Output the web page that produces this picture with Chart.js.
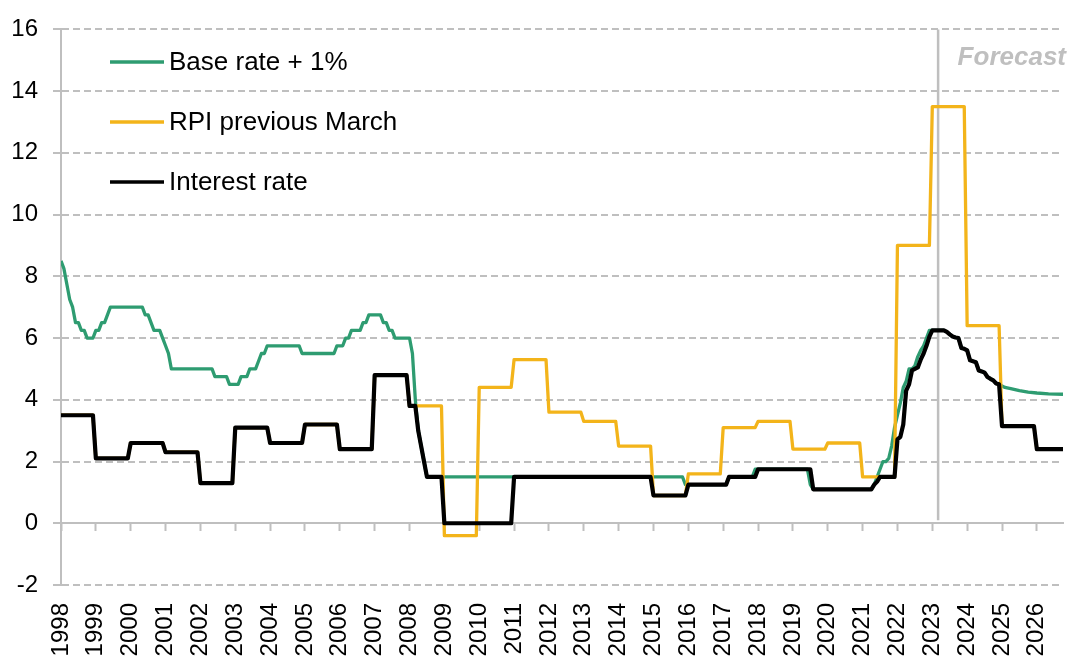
<!DOCTYPE html>
<html>
<head>
<meta charset="utf-8">
<script src="https://cdn.jsdelivr.net/npm/chart.js@4/dist/chart.umd.min.js"></script>
<style>
  html, body { margin: 0; padding: 0; background: #fff; }
  #wrap { width: 1071px; height: 661px; }
</style>
</head>
<body>
<div id="wrap"><canvas id="lineChart"></canvas></div>
<script>
// months are counted from the first point (the 1998 tick)
var startYear = 1998;
var lastMonth = 345;
var forecastMonth = 302;

var yearTicks = [1998, 1999, 2000, 2001, 2002, 2003, 2004, 2005, 2006, 2007, 2008, 2009, 2010, 2011,
    2012, 2013, 2014, 2015, 2016, 2017, 2018, 2019, 2020, 2021, 2022, 2023, 2024, 2025, 2026];
var valueTicks = [-2, 0, 2, 4, 6, 8, 10, 12, 14, 16];

// Base rate + 1%
var baseMonths = [0, 1, 2, 3, 4, 5, 6, 7, 8, 9, 11, 12, 13, 14, 15, 16, 17, 28, 29, 30, 31, 32, 34, 35, 36, 37, 38,
    52, 53, 57, 58, 61, 62, 64, 65, 67, 68, 69, 70, 71, 82, 83, 94, 95, 97, 98, 99, 100, 103, 104, 105, 106,
    110, 111, 112, 113, 114, 115, 120, 121, 122, 123, 124, 125, 126, 214, 215, 229, 230, 238, 239, 257, 258, 259,
    279, 280, 281, 282, 283, 284, 285, 286, 287, 288, 289, 290, 291, 292, 293, 294, 295, 296, 297, 298, 299,
    304, 305, 306, 307, 308, 309, 310, 311, 312, 313, 314, 315, 316, 317, 318, 319, 320, 321, 322, 323, 324, 325,
    327, 330, 333, 336, 340, 345];
var baseValues = [8.5, 8.25, 7.75, 7.25, 7.0, 6.5, 6.5, 6.25, 6.25, 6.0, 6.0, 6.25, 6.25, 6.5, 6.5, 6.75, 7.0,
    7.0, 6.75, 6.75, 6.5, 6.25, 6.25, 6.0, 5.75, 5.5, 5.0, 5.0, 4.75, 4.75, 4.5, 4.5, 4.75, 4.75, 5.0, 5.0, 5.25,
    5.5, 5.5, 5.75, 5.75, 5.5, 5.5, 5.75, 5.75, 6.0, 6.0, 6.25, 6.25, 6.5, 6.5, 6.75, 6.75, 6.5, 6.5, 6.25, 6.25,
    6.0, 6.0, 5.5, 4.0, 3.0, 2.5, 2.0, 1.5, 1.5, 1.25, 1.25, 1.5, 1.5, 1.75, 1.75, 1.25, 1.1,
    1.1, 1.25, 1.5, 1.75, 2.0, 2.0, 2.1, 2.5, 3.1, 3.5, 3.9, 4.4, 4.6, 5.0, 5.0, 5.1, 5.4, 5.6, 5.75, 6.0, 6.25,
    6.25, 6.2, 6.12, 6.05, 6.02, 6.0, 5.68, 5.65, 5.6, 5.28, 5.25, 5.22, 4.95, 4.92, 4.88, 4.74, 4.68, 4.63, 4.53,
    4.5, 4.45, 4.4, 4.36, 4.3, 4.25, 4.22, 4.19, 4.18];

// RPI previous March, one level per year on the axis
var rpiByYear = [3.5, 2.1, 2.6, 2.3, 1.3, 3.1, 2.6, 3.2, 2.4, 4.8, 3.8, -0.4, 4.4, 5.3, 3.6, 3.3, 2.5, 0.9,
    1.6, 3.1, 3.3, 2.4, 2.6, 1.5, 9.0, 13.5, 6.4, 3.15, 2.4];

// Interest rate
var rateMonths = [0, 11, 12, 23, 24, 35, 36, 47, 48, 59, 60, 71, 72, 83, 84, 95, 96, 107, 108, 119, 120,
    122, 123, 124, 125, 126, 131, 132, 155, 156, 203, 204, 215, 216, 229, 230, 239, 240, 258, 259,
    279, 280, 281, 282, 287, 288, 289, 290, 291, 292, 293, 294, 295, 296, 297, 298, 299, 300,
    304, 305, 306, 307, 308, 309, 310, 311, 312, 313, 314, 315, 316, 317, 318, 319, 320, 321, 322, 323, 324,
    335, 336, 345];
var rateValues = [3.5, 3.5, 2.1, 2.1, 2.6, 2.6, 2.3, 2.3, 1.3, 1.3, 3.1, 3.1, 2.6, 2.6, 3.2, 3.2, 2.4, 2.4, 4.8, 4.8, 3.8,
    3.8, 3.0, 2.5, 2.0, 1.5, 1.5, 0, 0, 1.5, 1.5, 0.9, 0.9, 1.25, 1.25, 1.5, 1.5, 1.75, 1.75, 1.1,
    1.1, 1.25, 1.35, 1.5, 1.5, 2.72, 2.8, 3.2, 4.3, 4.5, 4.95, 5.0, 5.05, 5.3, 5.5, 5.75, 6.05, 6.25,
    6.25, 6.2, 6.12, 6.05, 6.02, 6.0, 5.68, 5.65, 5.6, 5.28, 5.25, 5.22, 4.95, 4.92, 4.88, 4.74, 4.68, 4.63, 4.53, 4.5, 3.15,
    3.15, 2.4, 2.4];

var fontFamily = '"Liberation Sans", Arial, sans-serif';
var gridGrey = '#bfbfbf';

function monthToYear(m) {
    return startYear + m / 12;
}

function toPoints(months, values) {
    return months.map(function (m, i) {
        return { x: monthToYear(m), y: values[i] };
    });
}

function rpiPoints() {
    var pts = [];
    rpiByYear.forEach(function (v, i) {
        pts.push({ x: monthToYear(i * 12), y: v });
        pts.push({ x: monthToYear(Math.min(i * 12 + 11, lastMonth)), y: v });
    });
    return pts;
}

function yearTickList(scale) {
    scale.ticks = yearTicks.map(function (v) { return { value: v }; });
}

// grey forecast divider and its label
var forecastMarker = {
    id: 'forecastMarker',
    beforeDatasetsDraw: function (chart) {
        var ctx = chart.ctx, area = chart.chartArea;
        var x = chart.scales.x.getPixelForValue(monthToYear(forecastMonth));
        ctx.save();
        ctx.strokeStyle = gridGrey;
        ctx.lineWidth = 2.5;
        ctx.beginPath();
        ctx.moveTo(x, area.top);
        ctx.lineTo(x, chart.scales.y.getPixelForValue(0.1));
        ctx.stroke();
        ctx.fillStyle = gridGrey;
        ctx.font = 'italic bold 26px ' + fontFamily;
        ctx.textAlign = 'right';
        ctx.textBaseline = 'alphabetic';
        ctx.fillText('Forecast', area.right + 3, 65);
        ctx.restore();
    }
};

// legend stacked in the top left of the plot
var stackedLegend = {
    id: 'stackedLegend',
    afterDatasetsDraw: function (chart) {
        var ctx = chart.ctx, area = chart.chartArea;
        ctx.save();
        ctx.font = '26px ' + fontFamily;
        ctx.textAlign = 'left';
        ctx.textBaseline = 'alphabetic';
        chart.data.datasets.forEach(function (ds, i) {
            var y = area.top + 32.5 + i * 60;
            ctx.strokeStyle = ds.borderColor;
            ctx.lineWidth = 3.5;
            ctx.beginPath();
            ctx.moveTo(area.left + 49, y);
            ctx.lineTo(area.left + 103, y);
            ctx.stroke();
            ctx.fillStyle = '#000';
            ctx.fillText(ds.label, area.left + 108, y + 8.5);
        });
        ctx.restore();
    }
};

var lineData = {
    datasets: [{
        label: 'Base rate + 1%',
        data: toPoints(baseMonths, baseValues),
        borderColor: '#2e9c71',
        borderWidth: 3.3,
        order: 3
    }, {
        label: 'RPI previous March',
        data: rpiPoints(),
        borderColor: '#f3b41a',
        borderWidth: 3.3,
        order: 2
    }, {
        label: 'Interest rate',
        data: toPoints(rateMonths, rateValues),
        borderColor: '#000000',
        borderWidth: 4.2,
        order: 1
    }]
};

var lineOptions = {
    responsive: true,
    maintainAspectRatio: false,
    animation: false,
    devicePixelRatio: 1,
    layout: { padding: { left: 0, right: 8, top: 26.5, bottom: 0 } },
    plugins: {
        legend: { display: false },
        tooltip: { enabled: false }
    },
    elements: {
        point: { radius: 0 },
        line: { tension: 0, borderJoinStyle: 'round', fill: false }
    },
    scales: {
        x: {
            type: 'linear',
            position: 'bottom',
            min: monthToYear(0),
            max: monthToYear(lastMonth),
            afterBuildTicks: yearTickList,
            afterFit: function (scale) {
                scale.height = 76;
                scale.paddingLeft = 0;
                scale.paddingRight = 0;
            },
            grid: { display: false, drawTicks: false },
            border: { display: false },
            ticks: {
                color: '#000',
                font: { size: 24, family: fontFamily },
                minRotation: 90,
                maxRotation: 90,
                autoSkip: false,
                padding: 18,
                callback: function (v) { return String(v); }
            }
        },
        x0: {
            axis: 'x',
            type: 'linear',
            position: { y: 0 },
            min: monthToYear(0),
            max: monthToYear(lastMonth),
            afterBuildTicks: yearTickList,
            afterFit: function (scale) {
                scale.paddingLeft = 0;
                scale.paddingRight = 0;
            },
            grid: {
                drawOnChartArea: false,
                drawTicks: true,
                tickLength: 7,
                tickColor: gridGrey,
                tickWidth: 2
            },
            border: { display: true, color: gridGrey, width: 2 },
            ticks: { display: false }
        },
        y: {
            type: 'linear',
            position: 'left',
            min: -2,
            max: 16,
            afterBuildTicks: function (scale) {
                scale.ticks = valueTicks.map(function (v) { return { value: v }; });
            },
            afterFit: function (scale) { scale.width = 61; },
            grid: {
                color: function (c) {
                    return c.tick && c.tick.value === 0 ? 'rgba(0,0,0,0)' : gridGrey;
                },
                lineWidth: 2,
                tickLength: 8,
                tickColor: gridGrey,
                tickWidth: 2,
                tickBorderDash: [7, 4]
            },
            border: { display: true, color: gridGrey, width: 2, dash: [7, 4] },
            ticks: {
                color: '#000',
                font: { size: 24, family: fontFamily },
                padding: 15
            }
        }
    }
};

var ctx = document.getElementById('lineChart').getContext('2d');
new Chart(ctx, {
    type: 'line',
    data: lineData,
    options: lineOptions,
    plugins: [forecastMarker, stackedLegend]
});
</script>
</body>
</html>
